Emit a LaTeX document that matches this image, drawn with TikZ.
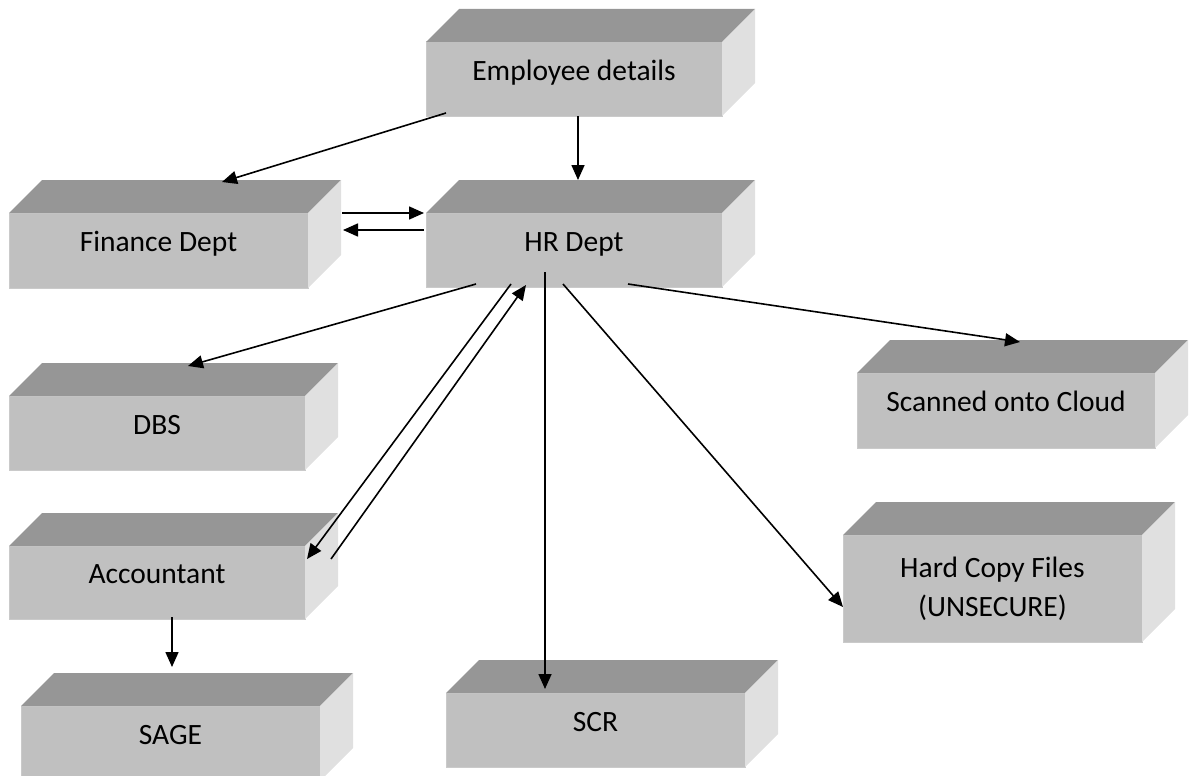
\documentclass[tikz,border=0pt]{standalone}
\usepackage{fontspec}
\setmainfont{Carlito}
\usetikzlibrary{arrows.meta,calc}
\definecolor{frontc}{HTML}{C0C0C0}
\definecolor{topc}{HTML}{969696}
\definecolor{sidec}{HTML}{E0E0E0}
\definecolor{edgec}{HTML}{CACACA}
\newcommand\drawcuboid[1]{%
  \fill[topc] (#1.north west) -- ++(33,33) -- ($(#1.north east)+(33,33)$) -- (#1.north east) -- cycle;
  \fill[sidec] (#1.north east) -- ++(33,33) -- ($(#1.south east)+(33,33)$) -- (#1.south east) -- cycle;
}
\tikzset{
  cub/.style={fill=frontc, draw=edgec, line width=1pt, inner sep=0pt, outer sep=0pt,
    font=\fontsize{29.5}{39}\selectfont, text height=0.7em, text depth=0.48em},
  cubtwo/.style={fill=frontc, draw=edgec, line width=1pt, inner sep=0pt, outer sep=0pt,
    font=\fontsize{29.5}{39}\selectfont, align=center},
  conn/.style={line width=1.6pt, -{Triangle[length=15pt,width=13pt]}},
}
\begin{document}
\begin{tikzpicture}[x=1pt,y=1pt]
\useasboundingbox (0,0) rectangle (1191,-776);
\node[cub, minimum width=296pt, minimum height=74pt] (emp) at (574,-79) {Employee details};
\node[cub, minimum width=299pt, minimum height=75pt] (fin) at (158.5,-250.5) {Finance Dept};
\node[cub, minimum width=296pt, minimum height=74pt] (hr) at (574,-250) {HR Dept};
\node[cub, minimum width=296pt, minimum height=74pt] (dbs) at (157,-433) {DBS};
\node[cub, minimum width=296pt, minimum height=73pt] (acc) at (157,-582.5) {Accountant};
\node[cub, minimum width=299pt, minimum height=75pt] (sage) at (170.5,-743.5) {SAGE};
\node[cub, minimum width=299pt, minimum height=74pt] (scr) at (595.5,-730) {SCR};
\node[cub, minimum width=298pt, minimum height=75pt] (scan) at (1006,-410.5) {Scanned onto Cloud};
\node[cubtwo, minimum width=299pt, minimum height=107pt] (hard) at (992.5,-588.5) {Hard Copy Files\\(UNSECURE)};
\foreach \n in {emp,fin,hr,dbs,acc,sage,scr,scan,hard} {\drawcuboid{\n}}
% connectors
\draw[conn] ($(emp.south west)+(20,3)$) -- ($(fin.north west)+(213,31)$);
\draw[conn] ($(emp.south)+(4,0)$) -- ($(hr.north)+(4,33)$);
\draw[conn] ($(fin.north east)+(34,0)$) -- ($(hr.north west)+(-2,0)$);
\draw[conn] ($(hr.north west)+(-2,-17)$) -- ($(fin.north east)+(35,-17)$);
\draw[conn] ($(hr.south west)+(50,3)$) -- ($(dbs.north west)+(179,30)$);
\draw[conn] ($(hr.south west)+(85,3)$) -- ($(acc.north east)+(2,-13)$);
\draw[conn] ($(acc.north east)+(26,-13)$) -- ($(hr.south west)+(100,2)$);
\draw[conn] ($(hr.south west)+(119,15)$) -- ($(scr.north west)+(99,4)$);
\draw[conn] ($(hr.south west)+(137,3)$) -- ($(hard.north west)+(0,-72)$);
\draw[conn] ($(hr.south west)+(202,3)$) -- ($(scan.north west)+(163,31)$);
\draw[conn] ($(acc.south)+(15,2)$) -- ($(sage.north)+(1.5,39)$);
\end{tikzpicture}
\end{document}
